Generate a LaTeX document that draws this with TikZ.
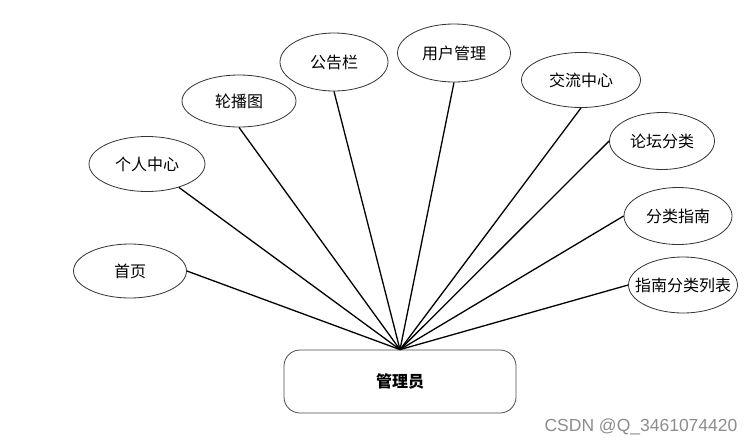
\documentclass[tikz,border=0pt]{standalone}
\usepackage{fontspec}
\setmainfont{Liberation Serif}
\newfontfamily\cjk{Noto Sans CJK SC}
\newfontfamily\wm{Liberation Sans}
\usetikzlibrary{shapes.geometric}
\begin{document}
\begin{tikzpicture}[x=1pt,y=-1pt,
  attr/.style={ellipse,draw=black!80,line width=0.8pt,inner sep=0pt,label={[font=\cjk\fontsize{16}{16}\selectfont,inner sep=0pt]center:#1}},
  link/.style={draw=black,line width=1.3pt}]
\useasboundingbox (0,0) rectangle (755,445);
\node[draw=black!70,line width=0.8pt,rounded corners=16pt,minimum width=232pt,minimum height=63pt,font=\cjk\bfseries\fontsize{16}{16}\selectfont] (admin) at (400,381.5) {管理员};
\node[attr=首页,minimum width=113pt,minimum height=54pt] (a1) at (130,271) {};
\node[attr=个人中心,minimum width=116pt,minimum height=55pt] (a2) at (147,164) {};
\node[attr=轮播图,minimum width=114pt,minimum height=52pt] (a3) at (239,101) {};
\node[attr=公告栏,minimum width=108pt,minimum height=58pt] (a4) at (334,62) {};
\node[attr=用户管理,minimum width=113pt,minimum height=58pt] (a5) at (454,53) {};
\node[attr=交流中心,minimum width=119pt,minimum height=55pt] (a6) at (581,80) {};
\node[attr=论坛分类,minimum width=105pt,minimum height=57pt] (a7) at (662,141) {};
\node[attr=分类指南,minimum width=108pt,minimum height=57pt] (a8) at (678,216) {};
\node[attr=指南分类列表,minimum width=109pt,minimum height=56pt] (a9) at (683,285) {};
\coordinate (hub) at (admin.north);
\draw[link] (a1.east) -- (hub);
\draw[link] (a2) -- (hub);
\draw[link] (a3.south) -- (hub);
\draw[link] (a4.south) -- (hub);
\draw[link] (a5.south) -- (hub);
\draw[link] (a6.south) -- (hub);
\draw[link] (a7.west) -- (hub);
\draw[link] (a8.west) -- (hub);
\draw[link] (a9.west) -- (hub);
\node[font=\wm\fontsize{17.5}{17.5}\selectfont,text=black!45,inner sep=0pt] (wmk) at (641,427) {CSDN @Q\_3461074420};
\end{tikzpicture}
\end{document}
